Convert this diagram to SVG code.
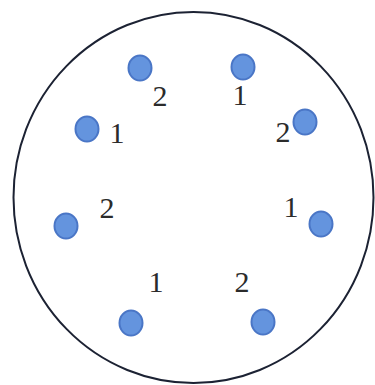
<svg xmlns="http://www.w3.org/2000/svg" width="375" height="385" viewBox="0 0 375 385">
<style>
.pin{fill:#6494de;stroke:#4a76c6;stroke-width:2}
.lbl{font-family:"Liberation Serif","Times New Roman",serif;font-size:30px;fill:#2b2b2b;text-anchor:middle}
</style>
<rect width="375" height="385" fill="#ffffff"/>
<g id="body"><ellipse cx="193.5" cy="197.5" rx="180" ry="185.5" fill="none" stroke="#1c2233" stroke-width="2"/></g>
<g id="pin-a"><ellipse class="pin" cx="140" cy="68" rx="11.5" ry="12.5"/><text class="lbl" x="160" y="106">2</text></g>
<g id="pin-b"><ellipse class="pin" cx="243" cy="67" rx="11.5" ry="12.5"/><text class="lbl" x="240" y="105">1</text></g>
<g id="pin-c"><ellipse class="pin" cx="87" cy="129" rx="11.5" ry="12.5"/><text class="lbl" x="117" y="143">1</text></g>
<g id="pin-d"><ellipse class="pin" cx="305" cy="122" rx="11.5" ry="12.5"/><text class="lbl" x="283" y="142">2</text></g>
<g id="pin-e"><ellipse class="pin" cx="66" cy="226" rx="11.5" ry="12.5"/><text class="lbl" x="107" y="218">2</text></g>
<g id="pin-f"><ellipse class="pin" cx="321" cy="224" rx="11.5" ry="12.5"/><text class="lbl" x="291" y="217">1</text></g>
<g id="pin-g"><ellipse class="pin" cx="131" cy="323" rx="11.5" ry="12.5"/><text class="lbl" x="156" y="292">1</text></g>
<g id="pin-h"><ellipse class="pin" cx="263" cy="322" rx="11.5" ry="12.5"/><text class="lbl" x="242" y="292">2</text></g>
<g id="connectors"/>
</svg>
